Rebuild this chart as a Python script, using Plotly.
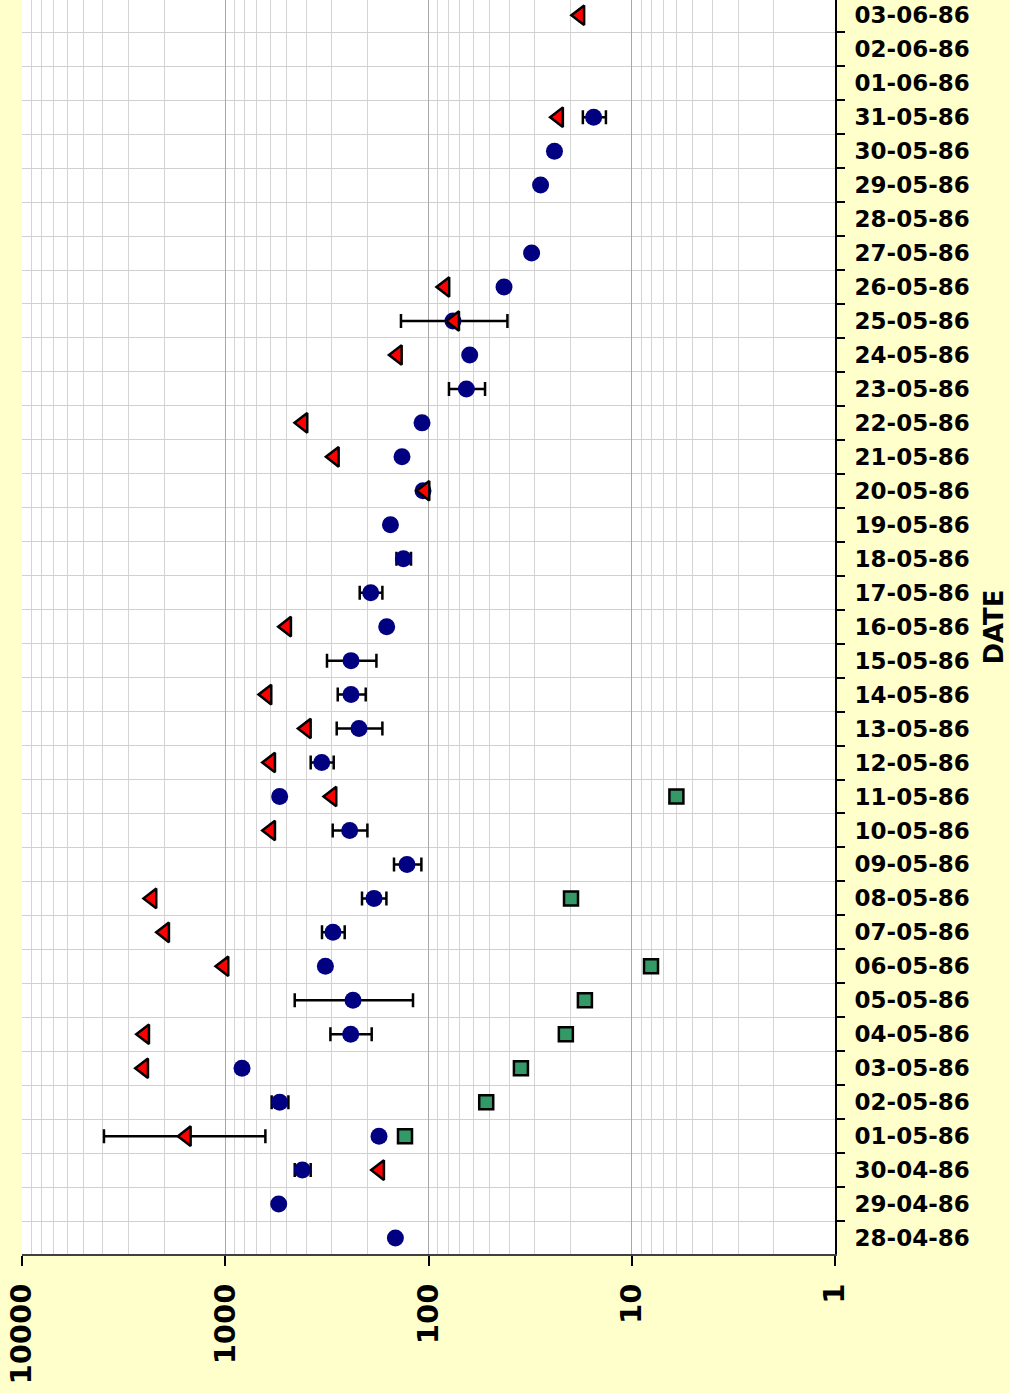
import plotly.graph_objects as go

# Day labels (dd-mm-yy), bottom to top
dates = [
    "28-04-86", "29-04-86", "30-04-86",
    "01-05-86", "02-05-86", "03-05-86", "04-05-86", "05-05-86", "06-05-86",
    "07-05-86", "08-05-86", "09-05-86", "10-05-86", "11-05-86", "12-05-86",
    "13-05-86", "14-05-86", "15-05-86", "16-05-86", "17-05-86", "18-05-86",
    "19-05-86", "20-05-86", "21-05-86", "22-05-86", "23-05-86", "24-05-86",
    "25-05-86", "26-05-86", "27-05-86", "28-05-86", "29-05-86", "30-05-86",
    "31-05-86", "01-06-86", "02-06-86", "03-06-86",
]

N = None

# Series A (circles)
circle_vals = [
    145.5, 545.8, 417.4, 175.2, 539.7, 827, 241.4, 235.2, 321.6, 295.1,
    185.4, 127.6, 244.2, 539.7, 335.3, 219.8, 240.6, 240.6, 160.6, 192.5,
    132.9, 153.9, 106.4, 135, 107.6, 65.1, 62.7, 75.8, 42.5, 31.1,
    N, 28.1, 24.0, 15.4, N, N, N,
]
circle_low = [
    N, N, 379.9, N, 489, N, 190.3, 119.2, N, 258.4,
    161.1, 108.4, 199.8, N, 292.7, 168.6, 203.7, 180.4, N, 168.6,
    121.9, N, N, N, N, 52.7, N, 40.9, N, N,
    N, N, N, 13.4, N, N, N,
]
circle_high = [
    N, N, 455.2, N, 591, N, 303.8, 455.2, N, 334.2,
    212.4, 147.8, 296, N, 379.9, 282.9, 279.6, 315.8, N, 218,
    143.8, N, N, N, N, 79.3, N, 136.6, N, N,
    N, N, N, 17.4, N, N, N,
]

# Series B (triangles)
tri_vals = [
    N, N, 173.9, 1553, N, 2519, 2490, N, 1014, 1986,
    2293, N, 597.5, 298.4, 597.5, 398.8, 623, N, 498.6, N,
    N, N, 104, 290.4, 414.4, N, 142.2, 74.3, 83, N,
    N, N, N, 22.9, N, N, 18.0,
]
tri_low = [N, N, N, 634.7] + [N] * 33
tri_high = [N, N, N, 3951] + [N] * 33

# Series C (squares)
sq_vals = [
    N, N, N, 130.5, 52.0, 35.1, 21.1, 17.0, 8.04, N,
    19.9, N, N, 6.03, N, N, N, N, N, N,
    N, N, N, N, N, N, N, N, N, N,
    N, N, N, N, N, N, N,
]

x_ticks = [1, 10, 100, 1000, 10000]
x_ticktext = ["1", "10", "100", "1000", "10000"]


def pick(vals):
    ys = [i for i, v in enumerate(vals) if v is not None]
    xs = [vals[i] for i in ys]
    return xs, ys


def errors(vals, low, high):
    plus, minus = [], []
    for v, lo, hi in zip(vals, low, high):
        if v is None:
            continue
        plus.append(0 if hi is None else hi - v)
        minus.append(0 if lo is None else v - lo)
    return plus, minus


def err_cfg(vals, low, high):
    plus, minus = errors(vals, low, high)
    return dict(type="data", symmetric=False, array=plus, arrayminus=minus,
                color="black", thickness=2.5, width=7)


fig = go.Figure()

cx, cy = pick(circle_vals)
fig.add_trace(go.Scatter(
    x=cx, y=cy, mode="markers", name="A",
    marker=dict(symbol="circle", size=17, color="#000080",
                line=dict(width=0)),
    error_x=err_cfg(circle_vals, circle_low, circle_high),
))

tx, ty = pick(tri_vals)
fig.add_trace(go.Scatter(
    x=tx, y=ty, mode="markers", name="B",
    marker=dict(symbol="triangle-left", size=17, color="#FF0000",
                line=dict(width=2.5, color="black")),
    error_x=err_cfg(tri_vals, tri_low, tri_high),
))

sx, sy = pick(sq_vals)
fig.add_trace(go.Scatter(
    x=sx, y=sy, mode="markers", name="C",
    marker=dict(symbol="square", size=14, color="#339966",
                line=dict(width=2.5, color="black")),
))

minor_x = [m * 10 ** d for d in range(0, 4) for m in range(2, 10)]
font_bold = dict(family="DejaVu Sans", size=23, color="black", weight="bold")

fig.update_layout(
    width=1010, height=1393,
    margin=dict(l=22, r=175, t=0, b=139),
    paper_bgcolor="#FFFFCC",
    plot_bgcolor="white",
    showlegend=False,
    xaxis=dict(
        type="log", range=[4, 0],
        tickmode="array", tickvals=x_ticks, ticktext=x_ticktext,
        tickangle=-90,
        tickfont=dict(family="DejaVu Sans", size=29, color="black", weight="bold"),
        ticks="outside", ticklen=10, tickwidth=1.5, tickcolor="black",
        ticklabelstandoff=6,
        showgrid=True, gridcolor="#a8a8a8", gridwidth=1,
        minor=dict(tickmode="array", tickvals=minor_x, showgrid=True,
                   gridcolor="#d4d4d4", gridwidth=1, ticks=""),
        showline=True, linecolor="#404040", linewidth=2,
        zeroline=False,
    ),
    yaxis=dict(
        range=[-0.47, 36.45], side="right",
        tickmode="array", tickvals=list(range(len(dates))), ticktext=dates,
        tickfont=font_bold,
        ticks="", showgrid=False,
        ticklabelstandoff=13,
        minor=dict(tickmode="array",
                   tickvals=[i + 0.5 for i in range(-1, len(dates))],
                   showgrid=True, gridcolor="#d0d0d0", gridwidth=1,
                   ticks="outside", ticklen=8, tickwidth=1.5,
                   tickcolor="black"),
        showline=True, linecolor="black", linewidth=2,
        zeroline=False,
        title=dict(text="DATE",
                   font=dict(family="DejaVu Sans", size=26, color="black",
                             weight="bold"),
                   standoff=16),
    ),
)

fig.write_html("out.html")
